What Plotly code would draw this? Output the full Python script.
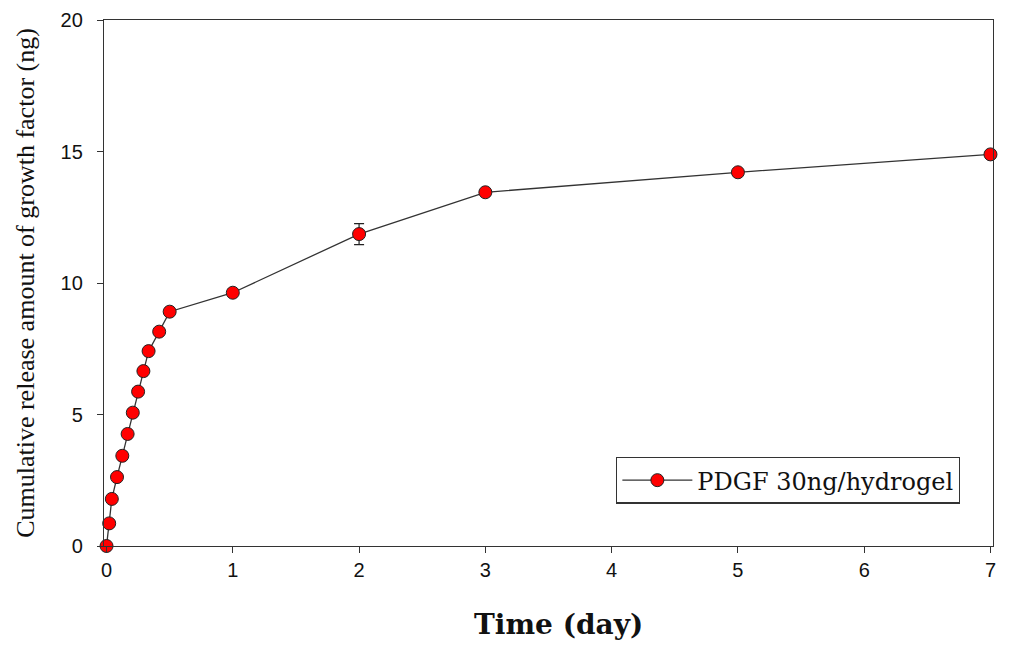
import plotly.graph_objects as go

# Data
time_day = [0, 0.021, 0.042, 0.083, 0.125, 0.167, 0.208, 0.25, 0.292, 0.333, 0.417, 0.5, 1, 2, 3, 5, 7]
release_ng = [0.0, 0.86, 1.79, 2.62, 3.43, 4.26, 5.07, 5.87, 6.65, 7.41, 8.15, 8.91, 9.63, 11.86, 13.45, 14.21, 14.89]
error_ng = [0.08, 0.08, 0.08, 0.08, 0.08, 0.08, 0.08, 0.08, 0.08, 0.08, 0.08, 0.08, 0.08, 0.40, 0.05, 0.05, 0.05]
series_name = "PDGF 30ng/hydrogel"
x_title = "Time (day)"
y_title = "Cumulative release amount of growth factor (ng)"
x_ticks = [0, 1, 2, 3, 4, 5, 6, 7]
y_ticks = [0, 5, 10, 15, 20]

fig = go.Figure()
fig.add_trace(go.Scatter(
    x=time_day, y=release_ng, name=series_name, mode="lines+markers",
    line=dict(color="#333333", width=1.3),
    marker=dict(color="#ff0000", size=13, line=dict(color="#222222", width=1)),
    error_y=dict(type="data", array=error_ng, visible=True, color="#222222", thickness=1.2, width=5),
    cliponaxis=False,
))

tick_font = dict(family="Liberation Sans Narrow, Arial Narrow, Liberation Sans, Arial", size=20, color="#111111")
serif = "Liberation Serif, Times New Roman, serif"
wide_serif = "DejaVu Serif, Liberation Serif, serif"
fig.update_layout(
    width=1010, height=646,
    margin=dict(l=96, r=25, t=12, b=108),
    paper_bgcolor="white", plot_bgcolor="white",
    showlegend=True,
    legend=dict(
        x=0.576, y=0.125, xanchor="left", yanchor="middle",
        bordercolor="#333333", borderwidth=1.3, bgcolor="white",
        font=dict(family=wide_serif, size=24, color="#111111"),
        itemwidth=70,
    ),
    xaxis=dict(
        range=[-0.02, 7.02], tickvals=x_ticks, ticktext=[str(v) for v in x_ticks],
        showgrid=False, zeroline=False, showline=True, linecolor="#333333", linewidth=1.3,
        mirror=True, ticks="outside", ticklen=6, tickcolor="#333333", tickfont=tick_font,
        automargin=False,
    ),
    yaxis=dict(
        range=[0, 20], tickvals=y_ticks, ticktext=[str(v) for v in y_ticks],
        showgrid=False, zeroline=False, showline=True, linecolor="#333333", linewidth=1.3,
        mirror=True, ticks="outside", ticklen=6, tickcolor="#333333", tickfont=tick_font,
        ticklabelstandoff=10, automargin=False,
        title=dict(text=y_title, standoff=18,
                   font=dict(family=serif, size=26, color="#111111")),
    ),
    annotations=[dict(
        text="<b>" + x_title + "</b>", xref="paper", yref="paper",
        x=0.511, y=-0.150, xanchor="center", yanchor="middle", showarrow=False,
        font=dict(family=wide_serif, size=28, color="#111111"),
    )],
)

fig.write_html("out.html")
